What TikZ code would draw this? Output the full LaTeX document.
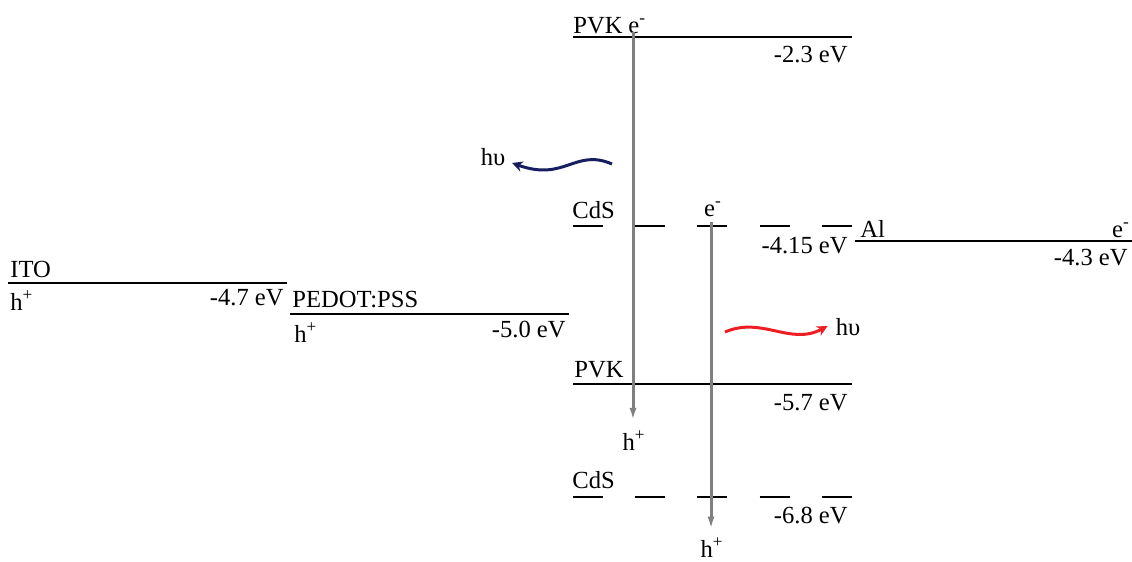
\documentclass[tikz,border=0pt]{standalone}
\usepackage{fontspec}
\setmainfont{Liberation Serif}
\usetikzlibrary{arrows.meta, positioning}

\definecolor{lineGray}{RGB}{128,128,128}
\definecolor{darkNavy}{RGB}{22,30,96}
\definecolor{emitRed}{RGB}{238,30,36}

\begin{document}
\begin{tikzpicture}[x=0.02cm, y=-0.02cm,
    every node/.style={font=\fontsize{14}{17}\selectfont, inner sep=0pt},
    level/.style={line width=0.8pt},
    cdslevel/.style={line width=0.8pt, dash pattern=on 0.6cm off 0.645cm},
    carrier/.style={-{Latex[length=7pt, width=4pt]}, lineGray, line width=1.7pt},
    photon/.style={-{Stealth[length=6pt, width=6pt]}, line width=1.7pt}]
      \useasboundingbox (0,0) rectangle (1132,561);

      % levels
      \draw[level] (573,37) -- (852,37);
      \draw[level] (573,384) -- (852,384);
      \draw[cdslevel] (573,226) -- (852,226);
      \draw[cdslevel] (573,497) -- (852,497);
      \draw[level] (8,283) -- (287,283);
      \draw[level] (290,314) -- (569,314);
      \draw[level] (855,241) -- (1132,241);

      % labels
      \node[anchor=base west] (pvkTop) at (573,33) {PVK};
      \node[anchor=base west] (eTop) at (628,33) {e\textsuperscript{-}};
      \node[anchor=base east] (eTwoThree) at (848,62) {-2.3 eV};
      \node[anchor=base west] (cdsTop) at (572,218) {CdS};
      \node[anchor=base] (eCds) at (713,216) {e\textsuperscript{-}};
      \node[anchor=base east] (eFourOneFive) at (848,253) {-4.15 eV};
      \node[anchor=base west] (al) at (860,237) {Al};
      \node[anchor=base east] (eAl) at (1130,237) {e\textsuperscript{-}};
      \node[anchor=base east] (eFourThree) at (1128,265) {-4.3 eV};
      \node[anchor=base west] (ito) at (10,277) {ITO};
      \node[anchor=base west] (hIto) at (10,310) {h\textsuperscript{+}};
      \node[anchor=base east] (eFourSeven) at (284,305) {-4.7 eV};
      \node[anchor=base west] (pedot) at (292,307) {PEDOT:PSS};
      \node[anchor=base west] (hPedot) at (294,342) {h\textsuperscript{+}};
      \node[anchor=base east] (eFiveZero) at (566,337) {-5.0 eV};
      \node[anchor=base west] (pvkBot) at (574,377) {PVK};
      \node[anchor=base east] (eFiveSeven) at (848,410) {-5.7 eV};
      \node[anchor=base west] (cdsBot) at (572,488) {CdS};
      \node[anchor=base east] (eSixEight) at (848,523) {-6.8 eV};
      \node[anchor=base] (hPvk) at (634,450) {h\textsuperscript{+}};
      \node[anchor=base] (hCds) at (712,557) {h\textsuperscript{+}};
      \node (hvBlue) at (493,157) {hυ};
      \node (hvRed) at (848,327) {hυ};

      % carriers
      \coordinate (pvkStart) at (633,32);
      \coordinate (cdsStart) at (711,222);
      \draw[carrier] (pvkStart) -- ([yshift=6pt]hPvk.north -| pvkStart);
      \draw[carrier] (cdsStart) -- ([yshift=5pt]hCds.north -| cdsStart);

      % emission
      \coordinate (blueStart) at (612,164);
      \coordinate (redStart) at (725,332);
      \draw[photon, darkNavy] (blueStart) .. controls (575,148) and (565,182) .. ([xshift=3.7pt,yshift=-3.4pt]hvBlue.east);
      \draw[photon, emitRed] (redStart) .. controls (762,316) and (790,346) .. ([xshift=-4.5pt,yshift=0.5pt]hvRed.west);
    \end{tikzpicture}
\end{document}
